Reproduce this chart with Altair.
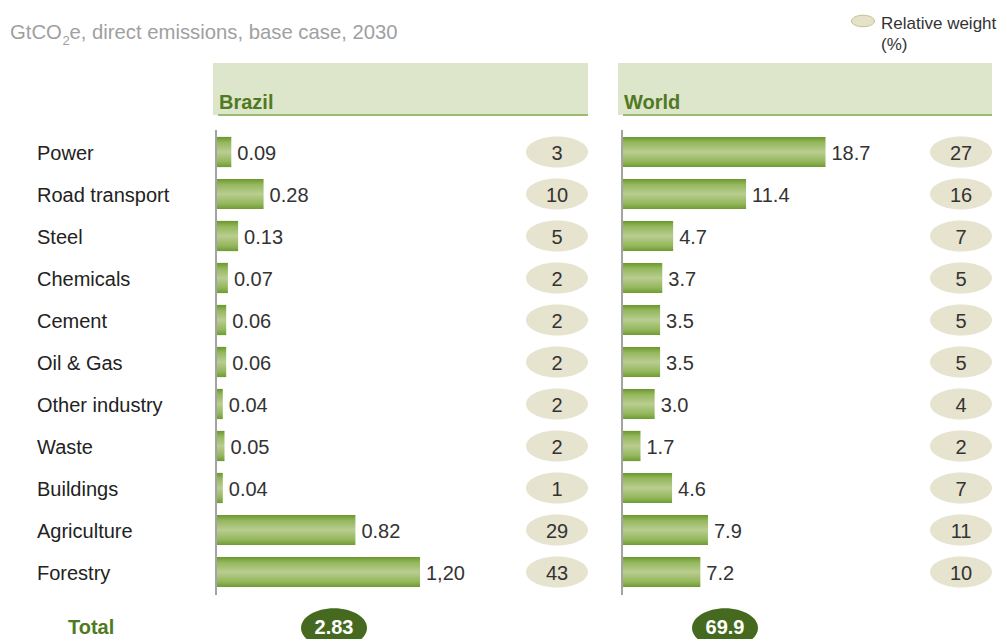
import altair as alt
import pandas as pd

categories = ["Power", "Road transport", "Steel", "Chemicals", "Cement", "Oil & Gas",
              "Other industry", "Waste", "Buildings", "Agriculture", "Forestry"]
brazil_values = [0.09, 0.28, 0.13, 0.07, 0.06, 0.06, 0.04, 0.05, 0.04, 0.82, 1.20]
brazil_labels = ["0.09", "0.28", "0.13", "0.07", "0.06", "0.06", "0.04", "0.05", "0.04", "0.82", "1,20"]
brazil_weights = [3, 10, 5, 2, 2, 2, 2, 2, 1, 29, 43]
world_values = [18.7, 11.4, 4.7, 3.7, 3.5, 3.5, 3.0, 1.7, 4.6, 7.9, 7.2]
world_labels = ["18.7", "11.4", "4.7", "3.7", "3.5", "3.5", "3.0", "1.7", "4.6", "7.9", "7.2"]
world_weights = [27, 16, 7, 5, 5, 5, 4, 2, 7, 11, 10]
regions = ["Brazil", "World"]
totals = ["2.83", "69.9"]
title_parts = ["GtCO", "2", "e, direct emissions, base case, 2030"]
legend_lines = ["Relative weight", "(%)"]
total_label = "Total"

FONT = "Liberation Sans"
df = pd.DataFrame({
    "cat": categories,
    "row": list(range(len(categories))),
    "bv": brazil_values, "bl": brazil_labels, "bw": brazil_weights,
    "wv": world_values, "wl": world_labels, "ww": world_weights,
})
df["y0"] = df["row"] - 0.36
df["y1"] = df["row"] + 0.36

yscale = alt.Scale(domain=[0, 10], range=[152, 572], zero=False, nice=False)
Y = alt.Y("row:Q", scale=yscale, axis=None)
bx = alt.Scale(domain=[0, 1.2], range=[216, 420], zero=False, nice=False)
wx = alt.Scale(domain=[0, 18.7], range=[622, 825.5], zero=False, nice=False)

grad = alt.Gradient(
    gradient="linear", x1=0, y1=0, x2=0, y2=1,
    stops=[
        alt.GradientStop(color="#6a962c", offset=0),
        alt.GradientStop(color="#93b75c", offset=0.18),
        alt.GradientStop(color="#bacd90", offset=0.5),
        alt.GradientStop(color="#93b75c", offset=0.82),
        alt.GradientStop(color="#6f9a32", offset=1),
    ],
)
ELL = "M-1,0A1,0.5,0,1,1,1,0A1,0.5,0,1,1,-1,0Z"
ELL_T = "M-1,0A1,0.6,0,1,1,1,0A1,0.6,0,1,1,-1,0Z"

one = pd.DataFrame({"k": [0]})
layers = []

# title
tdf = pd.DataFrame({"t": [title_parts[0]]})
layers.append(alt.Chart(tdf).mark_text(align="left", baseline="alphabetic", fontSize=20.3, color="#a0a0a0", font=FONT)
              .encode(x=alt.value(10), y=alt.value(39), text="t:N"))
tdf2 = pd.DataFrame({"t": [title_parts[1]]})
layers.append(alt.Chart(tdf2).mark_text(align="left", baseline="alphabetic", fontSize=13, color="#a0a0a0", font=FONT)
              .encode(x=alt.value(62.5), y=alt.value(45), text="t:N"))
tdf3 = pd.DataFrame({"t": [title_parts[2]]})
layers.append(alt.Chart(tdf3).mark_text(align="left", baseline="alphabetic", fontSize=20.3, color="#a0a0a0", font=FONT)
              .encode(x=alt.value(69.5), y=alt.value(39), text="t:N"))

# legend
layers.append(alt.Chart(one).mark_point(shape=ELL, filled=True, fill="#e5e2c8", stroke="#c4bf90",
                                        strokeWidth=1, size=23 ** 2, opacity=1)
              .encode(x=alt.value(863), y=alt.value(21)))
ldf = pd.DataFrame({"t": legend_lines, "i": [0, 1]})
layers.append(alt.Chart(ldf).mark_text(align="left", baseline="middle", fontSize=17, color="#333333", font=FONT)
              .encode(x=alt.value(881), y=alt.Y("i:Q", scale=alt.Scale(domain=[0, 1], range=[24, 45]), axis=None),
                      text="t:N"))

# headers
for reg, x0, x1 in [(regions[0], 213, 588), (regions[1], 618, 992)]:
    hdf = pd.DataFrame({"region": [reg]})
    layers.append(alt.Chart(hdf).mark_rect(color="#dde6ca")
                  .encode(x=alt.value(x0), x2=alt.value(x1), y=alt.value(63), y2=alt.value(115)))
    layers.append(alt.Chart(hdf).mark_rule(color="#9cba70", strokeWidth=2)
                  .encode(x=alt.value(x0 + 5), x2=alt.value(x1), y=alt.value(115)))
    layers.append(alt.Chart(hdf).mark_text(align="left", baseline="alphabetic", fontSize=20, fontWeight="bold",
                                           color="#4f7a22", font=FONT)
                  .encode(x=alt.value(x0 + 6), y=alt.value(109), text="region:N"))

# category labels
layers.append(alt.Chart(df).mark_text(align="left", baseline="middle", dy=2, fontSize=20, color="#222222", font=FONT)
              .encode(x=alt.value(37), y=Y, text="cat:N"))

for vf, lf, wf, sc, ecx in [("bv", "bl", "bw", bx, 557), ("wv", "wl", "ww", wx, 961)]:
    layers.append(alt.Chart(df).mark_rect(fill=grad)
                  .encode(x=alt.X(f"{vf}:Q", scale=sc, axis=None), x2=alt.datum(0),
                          y=alt.Y("y0:Q", scale=yscale, axis=None), y2="y1:Q"))
    layers.append(alt.Chart(one).mark_rule(color="#a3a3a3", strokeWidth=2)
                  .encode(x=alt.XDatum(0, scale=sc, axis=None), y=alt.value(130), y2=alt.value(595)))
    layers.append(alt.Chart(df).mark_text(align="left", baseline="middle", dx=6, dy=2, fontSize=20,
                                          color="#333333", font=FONT)
                  .encode(x=alt.X(f"{vf}:Q", scale=sc, axis=None), y=Y, text=f"{lf}:N"))
    layers.append(alt.Chart(df).mark_point(shape=ELL, filled=True, fill="#e6e3cf", size=62 ** 2,
                                           opacity=1, strokeWidth=0)
                  .encode(x=alt.value(ecx), y=Y))
    layers.append(alt.Chart(df).mark_text(baseline="middle", dy=2, fontSize=20, color="#333333", font=FONT)
                  .encode(x=alt.value(ecx), y=Y, text=f"{wf}:Q"))

# totals
layers.append(alt.Chart(pd.DataFrame({"t": [total_label]}))
              .mark_text(align="left", baseline="middle", fontSize=20, fontWeight="bold", color="#4f7a22", font=FONT)
              .encode(x=alt.value(68), y=alt.value(628), text="t:N"))
for tv, cx in [(totals[0], 334), (totals[1], 725)]:
    tdf = pd.DataFrame({"t": [tv]})
    layers.append(alt.Chart(tdf).mark_point(shape=ELL_T, filled=True, fill="#456a1f", size=66 ** 2,
                                            opacity=1, strokeWidth=0)
                  .encode(x=alt.value(cx), y=alt.value(628)))
    layers.append(alt.Chart(tdf).mark_text(baseline="middle", fontSize=20, fontWeight="bold", color="white", font=FONT)
                  .encode(x=alt.value(cx), y=alt.value(628), text="t:N"))

chart = (alt.layer(*layers)
         .resolve_scale(x="independent", y="independent")
         .properties(width=1004, height=639, padding=0, autosize="none")
         .configure_view(stroke=None))

chart.save("out.html", embed_options={"renderer": "svg", "actions": False})
